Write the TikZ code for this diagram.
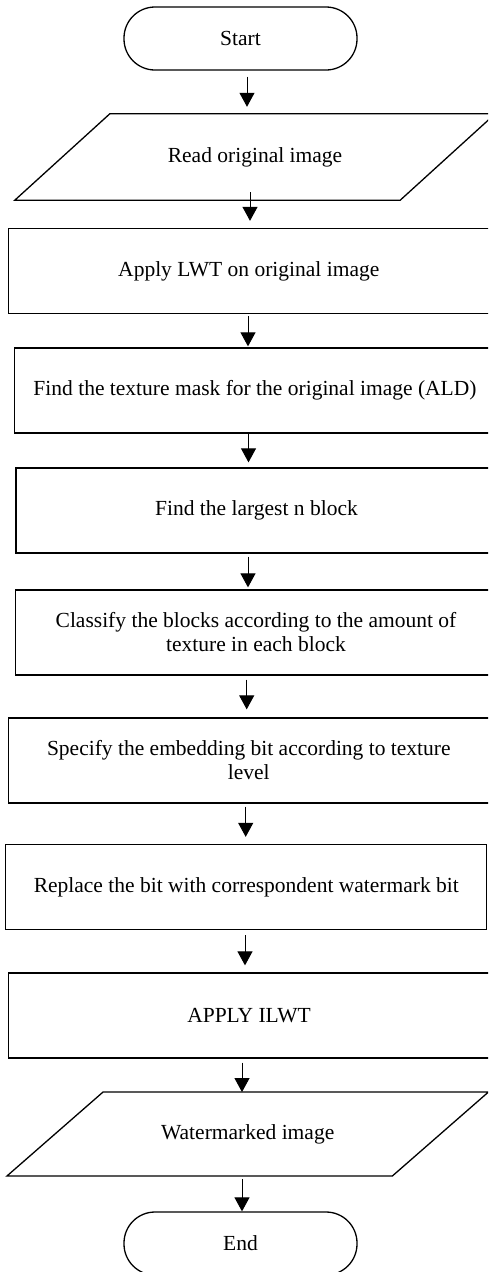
\documentclass[tikz,border=0pt]{standalone}
\usepackage{fontspec}
\setmainfont{Liberation Serif}
\usepackage{tikz}
\usetikzlibrary{arrows.meta}

\begin{document}
\begin{tikzpicture}[x=1pt, y=-1pt,
        font=\fontsize{21.5}{24}\selectfont,
        box/.style={draw, line width=1.3pt, minimum width=481pt, minimum height=85pt, inner sep=0pt, align=center},
        term/.style={draw, line width=1.3pt, rounded corners=31pt, minimum width=233pt, minimum height=63pt},
        io/.style={minimum width=385pt, minimum height=86pt, inner sep=0pt},
        shp/.style={line width=1.3pt},
        arr/.style={line width=1pt, -{Triangle[length=14pt, width=15pt]}}]
                \useasboundingbox (0,0) rectangle (488,1272);
                \clip (0,0) rectangle (488,1272);

                \node[term] (start) at (240.5,38.5) {Start};
                \node[io] (read) at (255,157) {Read original image};
                \node[box] (b1) at (248.8,271) {Apply LWT on original image};
                \node[box] (b2) at (255,390.5) {Find the texture mask for the original image (ALD)};
                \node[box] (b3) at (256.5,510.5) {Find the largest n block};
                \node[box] (b4) at (256,632.5) {Classify the blocks according to the amount of\\texture in each block};
                \node[box] (b5) at (248.8,760.5) {Specify the embedding bit according to texture\\level};
                \node[box] (b6) at (246.3,887) {Replace the bit with correspondent watermark bit};
                \node[box] (b7) at (249,1015.5) {APPLY ILWT};
                \node[io, minimum height=83.5pt] (wm) at (247.7,1134) {Watermarked image};
                \node[term] (end) at (240.5,1243.5) {End};

                % ulaz / izlaz (paralelogrami)
                \draw[shp] ([xshift=-47.5pt]read.south west) -- ([xshift=-47.5pt]read.south east)
                    -- ([xshift=47.5pt]read.north east) -- ([xshift=47.5pt]read.north west) -- cycle;
                \draw[shp] ([xshift=-48pt]wm.south west) -- ([xshift=-48pt]wm.south east)
                    -- ([xshift=48pt]wm.north east) -- ([xshift=48pt]wm.north west) -- cycle;

                \draw[arr, shorten <=6pt, shorten >=7pt] ([xshift=6.5pt]start.south) -- ([xshift=-8pt]read.north);
                \draw[arr, shorten <=-8pt, shorten >=7pt] ([xshift=-5pt]read.south) -- ([xshift=1.2pt]b1.north);
                \draw[arr, shorten <=2pt, shorten >=1pt] ([xshift=-0.8pt]b1.south) -- ([xshift=-7pt]b2.north);
                \draw[arr, shorten <=-1pt, shorten >=5pt] ([xshift=-6.5pt]b2.south) -- ([xshift=-8pt]b3.north);
                \draw[arr, shorten <=3pt, shorten >=2pt] ([xshift=-8.5pt]b3.south) -- ([xshift=-8pt]b4.north);
                \draw[arr, shorten <=4pt, shorten >=8pt] ([xshift=-9.3pt]b4.south) -- ([xshift=-2.1pt]b5.north);
                \draw[arr, shorten <=3pt, shorten >=7pt] ([xshift=-3.1pt]b5.south) -- ([xshift=-0.6pt]b6.north);
                \draw[arr, shorten <=5pt, shorten >=7pt] ([xshift=-1.3pt]b6.south) -- ([xshift=-4pt]b7.north);
                \draw[arr, shorten <=4pt] ([xshift=-7pt]b7.south) -- ([xshift=-5.7pt]wm.north);
                \draw[arr, shorten <=3pt] ([xshift=-5.7pt]wm.south) -- ([xshift=1.5pt]end.north);
\end{tikzpicture}
\end{document}
